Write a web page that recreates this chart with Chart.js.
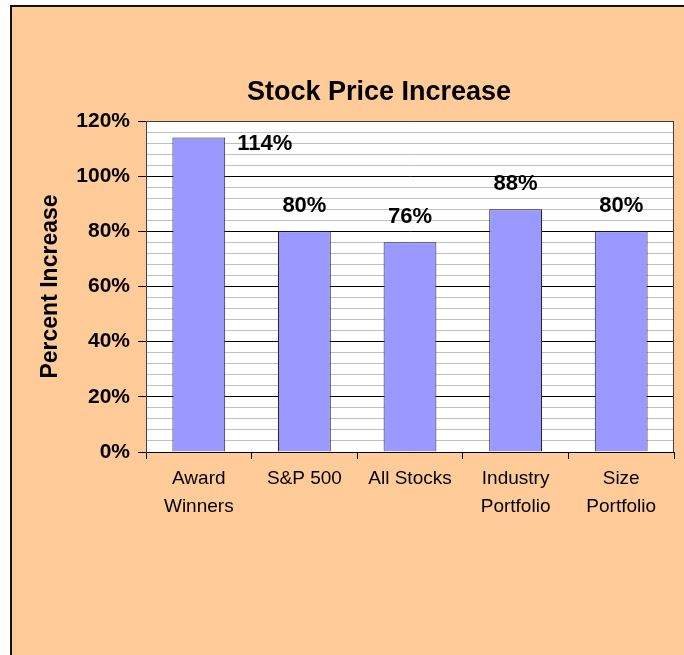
<!DOCTYPE html>
<html>
<head>
<meta charset="utf-8">
<script src="https://cdn.jsdelivr.net/npm/chart.js@4.4.1/dist/chart.umd.min.js"></script>
<style>
  html, body { margin: 0; padding: 0; background: #fff; }
  #wrap { width: 684px; height: 655px; }
</style>
</head>
<body>
<div id="wrap"><canvas id="chart" width="684" height="655"></canvas></div>
<script>
// datos del grafico
const categories = [['Award', 'Winners'], 'S&P 500', 'All Stocks', ['Industry', 'Portfolio'], ['Size', 'Portfolio']];
const increases = [114, 80, 76, 88, 80];
const yMajorTicks = [0, 20, 40, 60, 80, 100, 120];
const chartTitle = 'Stock Price Increase';
const yTitle = 'Percent Increase';

// fondo naranja, marco y area blanca
const backgroundPlugin = {
    id: 'background',
    beforeDraw(chart) {
        const c = chart.ctx;
        const a = chart.chartArea;
        c.save();
        c.fillStyle = '#ffffff';
        c.fillRect(0, 0, chart.width, chart.height);
        c.fillStyle = '#FFCC99';
        c.fillRect(11, 6, chart.width, chart.height);
        c.strokeStyle = '#111';
        c.lineWidth = 2;
        c.beginPath();
        c.moveTo(11, chart.height + 5);
        c.lineTo(11, 6);
        c.lineTo(chart.width + 5, 6);
        c.stroke();
        c.fillStyle = '#ffffff';
        c.fillRect(a.left, a.top, a.right - a.left, a.bottom - a.top);
        c.restore();
    },
    afterDraw(chart) {
        const c = chart.ctx;
        const a = chart.chartArea;
        c.save();
        c.strokeStyle = '#404040';
        c.lineWidth = 1;
        c.beginPath();
        c.moveTo(a.left, a.top + 0.5);
        c.lineTo(a.right - 0.5, a.top + 0.5);
        c.lineTo(a.right - 0.5, a.bottom);
        c.stroke();
        // titulo
        c.fillStyle = '#000';
        c.font = 'bold 27px Arial, "Liberation Sans", sans-serif';
        c.textAlign = 'center';
        c.textBaseline = 'middle';
        c.fillText(chartTitle, 379, 93);
        c.restore();
    }
};

// etiquetas de valor sobre las barras
const valueLabels = {
    id: 'valueLabels',
    afterDatasetsDraw(chart) {
        const c = chart.ctx;
        const meta = chart.getDatasetMeta(0);
        const a = chart.chartArea;
        c.save();
        c.fillStyle = '#000';
        c.font = 'bold 22px Arial, "Liberation Sans", sans-serif';
        c.textBaseline = 'middle';
        meta.data.forEach(function(bar, i) {
            const text = increases[i] + '%';
            let y = bar.y - 25;
            if (y - 10 < a.top) {
                // no cabe arriba, va al lado derecho
                c.textAlign = 'left';
                c.fillText(text, bar.x + bar.width / 2 + 12, bar.y + 6);
            } else {
                c.textAlign = 'center';
                c.fillText(text, bar.x, y);
            }
        });
        c.restore();
    }
};

const data = {
    labels: categories,
    datasets: [{
        data: increases,
        backgroundColor: '#9999FF',
        borderColor: '#22223a',
        borderWidth: 1,
        barPercentage: 0.5,
        categoryPercentage: 1.0
    }]
};

const options = {
    responsive: false,
    animation: false,
    layout: { padding: { top: 121, right: 10, bottom: 0, left: 0 } },
    plugins: {
        legend: { display: false },
        tooltip: { enabled: false }
    },
    scales: {
        x: {
            grid: {
                drawOnChartArea: false,
                color: '#000',
                tickLength: 7,
                offset: true
            },
            border: { color: '#000', width: 1 },
            ticks: {
                color: '#000',
                padding: 6,
                maxRotation: 0,
                autoSkip: false,
                font: { family: 'Arial, "Liberation Sans", sans-serif', size: 19, lineHeight: 1.45 }
            },
            afterFit(scale) { scale.height = 203; }
        },
        y: {
            min: 0,
            max: 120,
            grid: {
                color: ctx => (ctx.tick && yMajorTicks.includes(ctx.tick.value)) ? '#000' : '#c0c0c0',
                tickColor: ctx => (ctx.tick && yMajorTicks.includes(ctx.tick.value)) ? '#000' : 'rgba(0,0,0,0)',
                tickLength: 8,
                lineWidth: 1
            },
            border: { color: '#404040', width: 1 },
            ticks: {
                stepSize: 4,
                autoSkip: false,
                color: '#000',
                padding: 8,
                font: { family: 'Arial, "Liberation Sans", sans-serif', size: 21, weight: 'bold' },
                callback: v => yMajorTicks.includes(v) ? v + '%' : ''
            },
            title: {
                display: true,
                text: yTitle,
                color: '#000',
                padding: { top: 37, bottom: 0 },
                font: { family: 'Arial, "Liberation Sans", sans-serif', size: 23, weight: 'bold' }
            },
            afterFit(scale) { scale.width = 146; }
        }
    }
};

const ctx = document.getElementById('chart').getContext('2d');
const stockChart = new Chart(ctx, {
    type: 'bar',
    data: data,
    options: options,
    plugins: [backgroundPlugin, valueLabels]
});
</script>
</body>
</html>
